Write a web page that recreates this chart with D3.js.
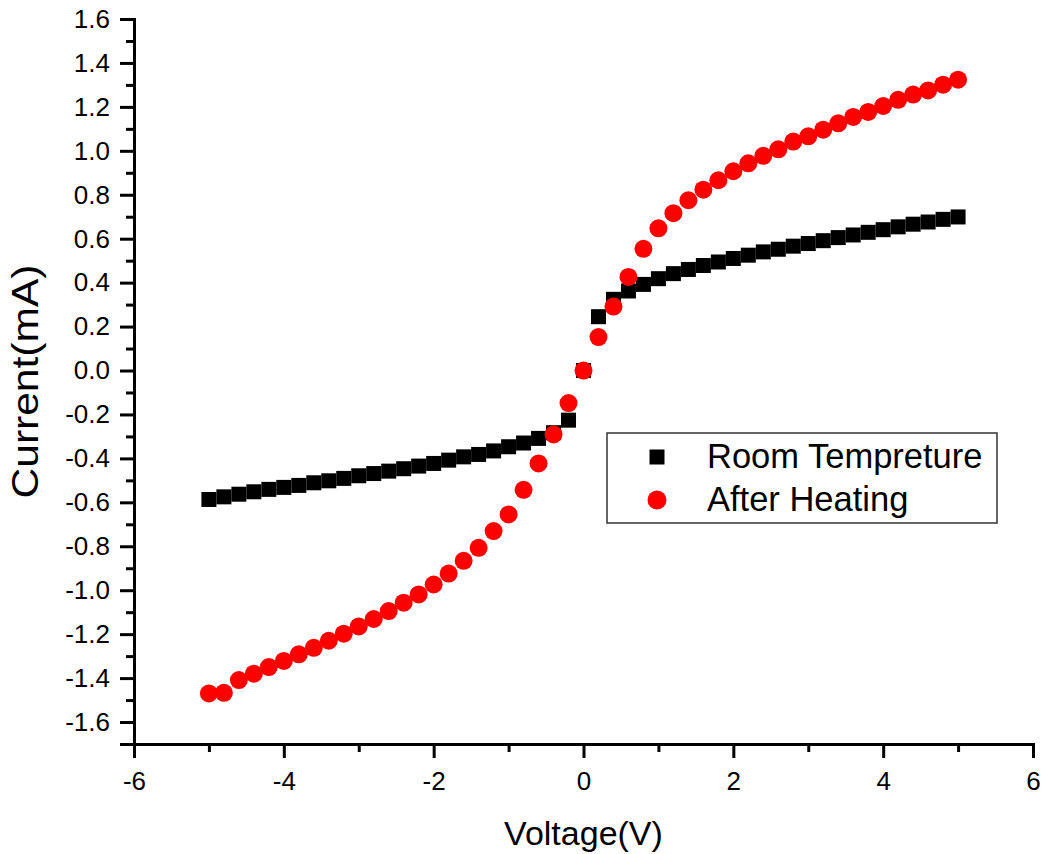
<!DOCTYPE html>
<html>
<head>
<meta charset="utf-8">
<script src="https://cdn.jsdelivr.net/npm/d3@7"></script>
<style>
  body { margin: 0; background: #fff; }
  text { font-family: "Liberation Sans", Arial, sans-serif; }
</style>
</head>
<body>
<div id="myVis"></div>
<script>
var margin = {top: 19, right: 12, bottom: 110, left: 134},
width = 1045 - margin.left - margin.right,
height = 854 - margin.top - margin.bottom;

// voltage steps (V)
const voltage = [-5.0, -4.8, -4.6, -4.4, -4.2, -4.0, -3.8, -3.6, -3.4, -3.2,
  -3.0, -2.8, -2.6, -2.4, -2.2, -2.0, -1.8, -1.6, -1.4, -1.2,
  -1.0, -0.8, -0.6, -0.4, -0.2, 0.0, 0.2, 0.4, 0.6, 0.8,
  1.0, 1.2, 1.4, 1.6, 1.8, 2.0, 2.2, 2.4, 2.6, 2.8,
  3.0, 3.2, 3.4, 3.6, 3.8, 4.0, 4.2, 4.4, 4.6, 4.8, 5.0]

// current (mA) at room temperature
const roomTemp = [-0.587, -0.575, -0.563, -0.552, -0.541, -0.532, -0.523, -0.511, -0.502, -0.491,
  -0.479, -0.469, -0.458, -0.447, -0.435, -0.423, -0.408, -0.393, -0.382, -0.366,
  -0.347, -0.330, -0.309, -0.283, -0.226, 0.0, 0.245, 0.324, 0.362, 0.392,
  0.418, 0.441, 0.460, 0.478, 0.494, 0.510, 0.525, 0.540, 0.552, 0.566,
  0.578, 0.591, 0.605, 0.617, 0.629, 0.641, 0.654, 0.666, 0.676, 0.688, 0.699]

// current (mA) after heating
const afterHeating = [-1.470, -1.467, -1.409, -1.380, -1.350, -1.322, -1.292, -1.262, -1.230, -1.198,
  -1.165, -1.131, -1.095, -1.057, -1.019, -0.974, -0.924, -0.866, -0.807, -0.731,
  -0.655, -0.543, -0.423, -0.291, -0.148, 0.0, 0.152, 0.291, 0.426, 0.554,
  0.647, 0.716, 0.775, 0.823, 0.866, 0.907, 0.943, 0.977, 1.007, 1.042,
  1.066, 1.096, 1.125, 1.154, 1.177, 1.204, 1.232, 1.256, 1.275, 1.301, 1.324]

const seriesNames = ["Room Tempreture", "After Heating"]

const xTicks = [-6, -4, -2, 0, 2, 4, 6]
const xMinor = [-5, -3, -1, 1, 3, 5]
const yTicks = [1.6, 1.4, 1.2, 1.0, 0.8, 0.6, 0.4, 0.2, 0.0, -0.2, -0.4, -0.6, -0.8, -1.0, -1.2, -1.4, -1.6]
const yMinor = [1.5, 1.3, 1.1, 0.9, 0.7, 0.5, 0.3, 0.1, -0.1, -0.3, -0.5, -0.7, -0.9, -1.1, -1.3, -1.5, -1.7]


const canvas = d3.select("#myVis")
        .append("svg")
            .attr("width", width + margin.left + margin.right)
            .attr("height", height + margin.top + margin.bottom)
        .append("g")
            .attr("transform", "translate(" + margin.left + "," + margin.top + ")");


var xScale = d3.scaleLinear()
            .domain([-6, 6])
            .range([0, 899])

var yScale = d3.scaleLinear()
            .domain([-1.7, 1.6])
            .range([725, 0])

// plain hyphen instead of d3's unicode minus
const fmtX = d => d3.format("d")(d).replace("\u2212", "-")
const fmtY = d => d3.format(".1f")(d).replace("\u2212", "-")


// minor ticks first, then the main axes on top
canvas.append("g")
    .attr("class", "minor")
    .attr("transform", "translate(0," + 725 + ")")
    .call(d3.axisBottom(xScale).tickValues(xMinor).tickSize(8).tickFormat(""))

canvas.append("g")
    .attr("class", "minor")
    .call(d3.axisLeft(yScale).tickValues(yMinor).tickSize(8).tickFormat(""))

canvas.append("g")
    .attr("class", "major")
    .attr("transform", "translate(0," + 725 + ")")
    .call(d3.axisBottom(xScale).tickValues(xTicks).tickSize(14).tickPadding(14).tickFormat(fmtX))

canvas.append("g")
    .attr("class", "major")
    .call(d3.axisLeft(yScale).tickValues(yTicks).tickSize(14).tickPadding(10).tickFormat(fmtY))

canvas.selectAll(".minor .domain").remove()
canvas.selectAll(".tick line")
    .attr("stroke", "#000")
    .attr("stroke-width", 3)
canvas.selectAll(".domain")
    .attr("stroke", "#000")
    .attr("stroke-width", 3)
canvas.selectAll(".major text")
    .attr("font-family", "Liberation Sans, Arial, sans-serif")
    .attr("font-size", 26)
    .attr("fill", "#000")


// axis titles, both centred on their axis
canvas.append("text")
    .attr("x", xScale(0))
    .attr("y", 826)
    .attr("text-anchor", "middle")
    .attr("font-size", 34)
    .text("Voltage(V)")

canvas.append("text")
    .attr("transform", "translate(-96," + (725 / 2) + ") rotate(-90)")
    .attr("text-anchor", "middle")
    .attr("font-size", 36)
    .attr("textLength", 234)
    .attr("lengthAdjust", "spacingAndGlyphs")
    .text("Current(mA)")


// room temperature squares
const sq = 15
canvas.selectAll("rect.room")
    .data(voltage)
    .enter()
    .append("rect")
        .attr("class", "room")
        .attr("x", (d) => xScale(d) - sq / 2)
        .attr("y", (d, i) => yScale(roomTemp[i]) - sq / 2)
        .attr("width", sq)
        .attr("height", sq)
        .attr("fill", "#000")

// after heating circles
canvas.selectAll("circle.heat")
    .data(voltage)
    .enter()
    .append("circle")
        .attr("class", "heat")
        .attr("cx", (d) => xScale(d))
        .attr("cy", (d, i) => yScale(afterHeating[i]))
        .attr("r", 9)
        .attr("fill", "#ff0000")


// legend
const legend = canvas.append("g")
    .attr("transform", "translate(473,414)")

legend.append("rect")
    .attr("x", 0)
    .attr("y", 0)
    .attr("width", 390)
    .attr("height", 90)
    .attr("fill", "#fff")
    .attr("stroke", "#333")
    .attr("stroke-width", 1.5)

legend.append("rect")
    .attr("x", 50 - sq / 2)
    .attr("y", 24 - sq / 2)
    .attr("width", sq)
    .attr("height", sq)
    .attr("fill", "#000")

legend.append("circle")
    .attr("cx", 50)
    .attr("cy", 67)
    .attr("r", 9.5)
    .attr("fill", "#ff0000")

legend.selectAll("text.lab")
    .data(seriesNames)
    .enter()
    .append("text")
        .attr("class", "lab")
        .attr("x", 100)
        .attr("y", (d, i) => 35 + i * 43)
        .attr("font-size", 34.5)
        .text(d => d)
</script>
</body>
</html>
